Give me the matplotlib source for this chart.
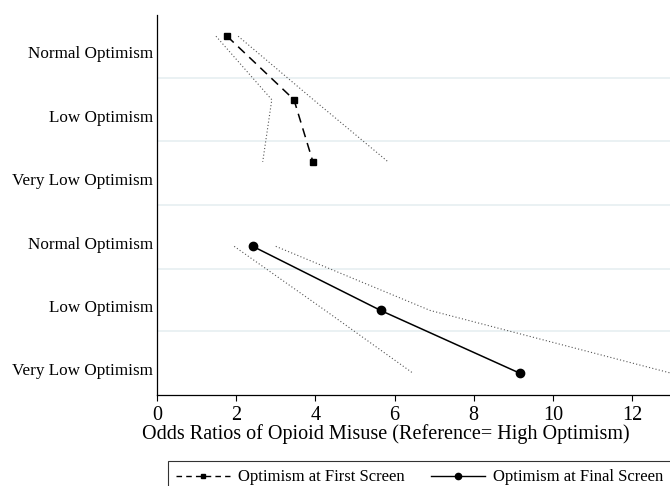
import matplotlib
matplotlib.use("Agg")
import matplotlib.pyplot as plt
from matplotlib.lines import Line2D

plt.rcParams['font.family'] = ['Liberation Serif', 'DejaVu Serif']

# category labels (top to bottom)
tick_labels = ["Normal Optimism", "Low Optimism", "Very Low Optimism",
               "Normal Optimism", "Low Optimism", "Very Low Optimism"]
tick_pos = [6, 5, 4, 3, 2, 1]
grid_pos = [5.59, 4.60, 3.59, 2.59, 1.60]

# First screen
first_y = [6.25, 5.25, 4.27]
first_or = [1.77, 3.46, 3.94]
first_lo = [1.49, 2.90, 2.67]
first_hi = [2.05, 3.95, 5.84]

# Final screen
final_y = [2.94, 1.93, 0.94]
final_or = [2.42, 5.65, 9.17]
final_lo = [1.95, 4.25, 6.47]
final_hi = [3.00, 6.90, 13.0]

W, H = 670, 486
fig = plt.figure(figsize=(W/100, H/100), dpi=100)
ax = fig.add_axes([157/W, 1-394.5/H, (671.6-157)/W, (394.5-15)/H])

ax.set_xlim(0, 13)
ax.set_ylim(0.606, 6.584)

for y in grid_pos:
    ax.axhline(y, color='#e8f0f2', lw=1.3, zorder=0)

ci_kw = dict(color='#555555', ls=(0, (1, 2)), lw=0.8, zorder=2)
ax.plot(first_lo, first_y, **ci_kw)
ax.plot(first_hi, first_y, **ci_kw)
ax.plot(final_lo, final_y, **ci_kw)
ax.plot(final_hi, final_y, **ci_kw)

ax.plot(first_or, first_y, color='black', ls=(0, (6, 4)), lw=1.1,
        marker='s', ms=4.5, zorder=3, clip_on=False)
ax.plot(final_or, final_y, color='black', ls='-', lw=1.1,
        marker='o', ms=6, zorder=3, clip_on=False)

ax.set_yticks(tick_pos)
ax.set_yticklabels(tick_labels, fontsize=12.3)
ax.tick_params(axis='y', length=0, pad=3)
ax.set_xticks([0, 2, 4, 6, 8, 10, 12])
ax.tick_params(axis='x', labelsize=14.5, length=4.5, width=0.8, pad=4)
ax.set_xlabel("Odds Ratios of Opioid Misuse (Reference= High Optimism)", fontsize=14.5)
ax.xaxis.set_label_coords((386-157)/(671.6-157), -(444-394.5)/(394.5-15), transform=ax.transAxes)
ax.xaxis.label.set_va('bottom')

for s in ['top', 'right']:
    ax.spines[s].set_visible(False)
for s in ['left', 'bottom']:
    ax.spines[s].set_linewidth(0.9)

h1 = Line2D([], [], color='black', ls=(0, (4, 3)), lw=1.0, marker='s', ms=3.5)
h2 = Line2D([], [], color='black', ls='-', lw=1.0, marker='o', ms=4.5)
leg = fig.legend([h1, h2], ["Optimism at First Screen", "Optimism at Final Screen"],
                 loc='upper left', bbox_to_anchor=(168/W, 1-461/H), ncol=2,
                 fontsize=12, frameon=True, fancybox=False, numpoints=1,
                 handlelength=3.2, columnspacing=1.6, borderpad=0.5, handletextpad=0.5,
                 borderaxespad=0)
leg.get_frame().set_edgecolor('black')
leg.get_frame().set_linewidth(0.8)

fig.savefig("out.png", dpi=100)
